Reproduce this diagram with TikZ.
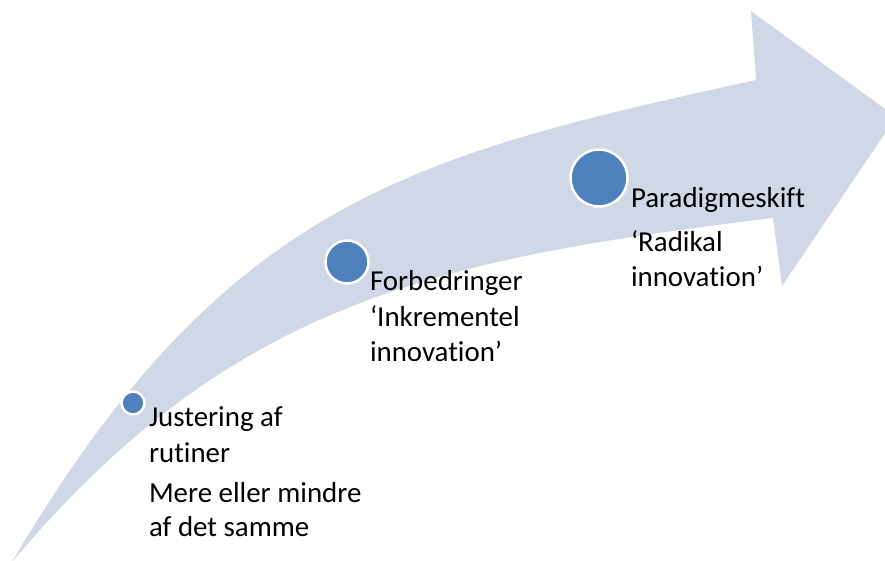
\documentclass[tikz,border=0pt]{standalone}
\usepackage{fontspec}
\setmainfont{Carlito}[Ligatures={NoCommon}]
\definecolor{bandfill}{HTML}{D0D8E8}
\definecolor{dotfill}{HTML}{4F81BD}
\tikzset{
  dot/.style={circle, fill=dotfill, draw=white, line width=2.5pt, inner sep=0pt, minimum size=#1},
  lbl/.style={anchor=base west, inner sep=0pt, outer sep=0pt, font=\fontsize{28.9}{34}\selectfont, text=black}
}
\begin{document}
\begin{tikzpicture}[x=1pt,y=-1pt]
\useasboundingbox (0,0) rectangle (885,560);
\clip (0,0) rectangle (885,560);
% curved arrow
\fill[bandfill] (12,562) .. controls (225,200) and (414,155) .. (756,80)
  -- (751,11) -- (896,117) -- (782,286) -- (773,218)
  .. controls (435,259) and (231,302) .. (12,562) -- cycle;
% dots
\node[dot=23pt] (d1) at (133,403) {};
\node[dot=43pt] (d2) at (347,262) {};
\node[dot=57pt] (d3) at (599,178) {};
% labels
\node[lbl] (t1a) at (149,426) {Justering af};
\node[lbl] (t1b) at (149,462) {rutiner};
\node[lbl] (t1c) at (149,502) {Mere eller mindre};
\node[lbl] (t1d) at (149,536) {af det samme};
\node[lbl] (t2a) at (370,290) {Forbedringer};
\node[lbl] (t2b) at (370,326) {‘Inkrementel};
\node[lbl] (t2c) at (370,361) {innovation’};
\node[lbl] (t3a) at (631,207) {Paradigmeskift};
\node[lbl] (t3b) at (631,251) {‘Radikal};
\node[lbl] (t3c) at (631,286) {innovation’};
\end{tikzpicture}
\end{document}
